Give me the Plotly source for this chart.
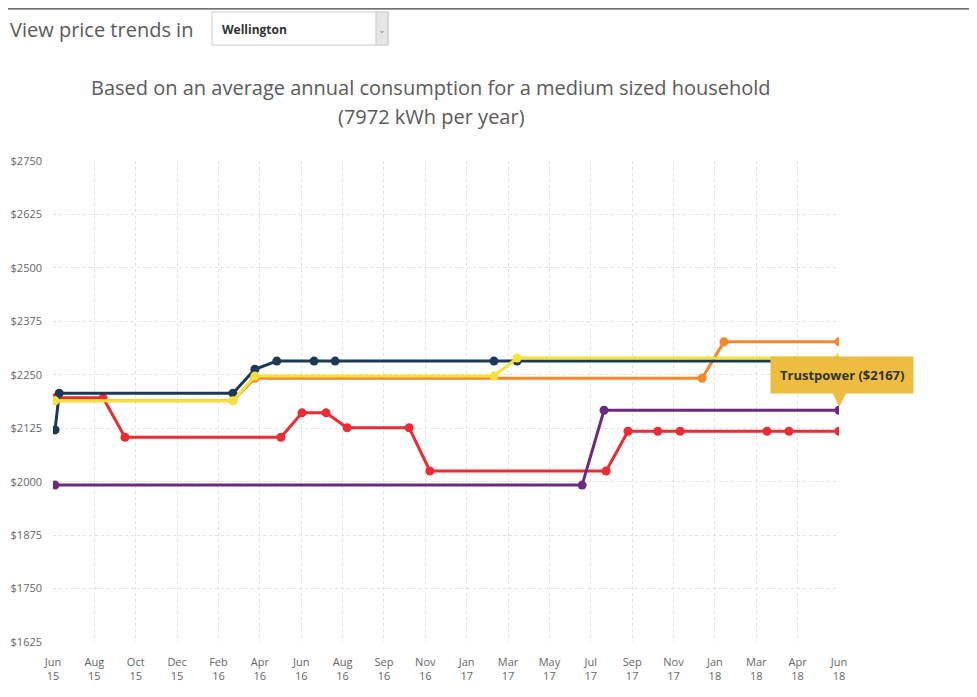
import plotly.graph_objects as go

# ---- data ----
tick_labels = ["Jun<br>15", "Aug<br>15", "Oct<br>15", "Dec<br>15", "Feb<br>16", "Apr<br>16",
               "Jun<br>16", "Aug<br>16", "Sep<br>16", "Nov<br>16", "Jan<br>17", "Mar<br>17",
               "May<br>17", "Jul<br>17", "Sep<br>17", "Nov<br>17", "Jan<br>18", "Mar<br>18",
               "Apr<br>18", "Jun<br>18"]
y_ticks = [1625, 1750, 1875, 2000, 2125, 2250, 2375, 2500, 2625, 2750]

red_x = [0.05, 1.21, 1.74, 5.51, 6.02, 6.60, 7.11, 8.61, 9.11, 13.37, 13.90, 14.62, 15.16, 17.26, 17.79, 19]
red_y = [2196, 2196, 2104, 2104, 2161, 2161, 2126, 2126, 2025, 2025, 2118, 2118, 2118, 2118, 2118, 2118]

purple_x = [0.05, 12.79, 13.32, 19]
purple_y = [1992, 1992, 2167, 2167]

orange_x = [0.05, 4.35, 4.88, 15.69, 16.22, 19]
orange_y = [2189, 2189, 2242, 2242, 2327, 2327]

navy_x = [0.05, 0.15, 4.35, 4.88, 5.41, 6.31, 6.82, 10.66, 11.22, 19]
navy_y = [2121, 2207, 2207, 2263, 2282, 2282, 2282, 2282, 2282, 2282]

yellow_x = [0.05, 4.35, 4.88, 10.66, 11.22, 19]
yellow_y = [2189, 2189, 2247, 2247, 2289, 2289]

series = [
    ("Contact Energy", red_x, red_y, "#ee2a33"),
    ("Trustpower", purple_x, purple_y, "#6b2a80"),
    ("Genesis Energy", orange_x, orange_y, "#f7872c"),
    ("Meridian", navy_x, navy_y, "#1c3a58"),
    ("Mercury", yellow_x, yellow_y, "#f6e23a"),
]

fig = go.Figure()
for name, xs, ys, col in series:
    fig.add_trace(go.Scatter(x=xs, y=ys, name=name, mode="lines+markers",
                             line=dict(color=col, width=3),
                             marker=dict(color=col, size=9),
                             hoverinfo="skip", showlegend=False))

# page offset of the figure (browser body margin)
OFF = 8
W, H = 977, 697
# plot area in page pixels
PL, PR, PT, PB = 53, 839, 161, 642
L, R, T, B = PL - OFF, PR - OFF, PT - OFF, PB - OFF

def px(x):
    return (x - OFF - L) / (R - L)

def py(y):
    return (B - (y - OFF)) / (B - T)

grey = "#5a5a5a"
ann = []
ann.append(dict(xref="paper", yref="paper", x=px(10), y=py(30), xanchor="left", yanchor="middle",
                text="View price trends in", showarrow=False, xshift=-2,
                font=dict(family="Open Sans", size=20, color=grey)))
ann.append(dict(xref="paper", yref="paper", x=px(220), y=py(29), xanchor="left", yanchor="middle",
                text="<b>Wellington</b>", showarrow=False,
                font=dict(family="Open Sans", size=12, color="#333")))
ann.append(dict(xref="paper", yref="paper", x=px(382), y=py(30), xanchor="center", yanchor="middle",
                text="⌄", showarrow=False,
                font=dict(family="DejaVu Sans", size=9, color="#888")))
ann.append(dict(xref="paper", yref="paper", x=px(431), y=py(87), xanchor="center", yanchor="middle",
                text="Based on an average annual consumption for a medium sized household", showarrow=False,
                font=dict(family="Open Sans", size=20, color=grey)))
ann.append(dict(xref="paper", yref="paper", x=px(431), y=py(116), xanchor="center", yanchor="middle",
                text="(7972 kWh per year)", showarrow=False,
                font=dict(family="Open Sans", size=20, color=grey)))
# tooltip
ann.append(dict(x=purple_x[-1], y=purple_y[-1], xref="x", yref="y", text="▼", showarrow=False,
                yshift=14, font=dict(family="DejaVu Sans", size=22, color="#ecbd3f"),
                xanchor="center", yanchor="middle"))
ann.append(dict(x=purple_x[-1], y=purple_y[-1], xref="x", yref="y",
                text="<b>Trustpower ($2167)</b>", showarrow=False, yshift=35, xshift=3,
                bgcolor="#ecbd3f", borderpad=9, font=dict(family="Open Sans", size=13, color="#333")))

shapes = [
    dict(type="rect", xref="paper", yref="paper", x0=px(212), x1=px(388), y0=py(45), y1=py(12),
         line=dict(color="#cccccc", width=1), fillcolor="white", layer="below"),
    dict(type="rect", xref="paper", yref="paper", x0=px(376), x1=px(388), y0=py(45), y1=py(12),
         line=dict(color="#cccccc", width=1), fillcolor="#e6e6e6", layer="below"),
    dict(type="line", xref="paper", yref="paper", x0=px(0), x1=px(985), y0=py(8.8), y1=py(8.8),
         line=dict(color="#444444", width=1.2)),
    dict(type="line", xref="paper", yref="paper", x0=px(970), x1=px(970), y0=py(9), y1=py(350),
         line=dict(color="#e3e3e3", width=1)),
]

fig.update_layout(
    width=W, height=H, autosize=False,
    margin=dict(l=L, r=W - R, t=T, b=H - B, pad=0, autoexpand=False),
    paper_bgcolor="white", plot_bgcolor="white",
    annotations=ann, shapes=shapes,
    font=dict(family="Open Sans", color="#666"),
)
fig.update_xaxes(range=[0, 19], tickmode="array", tickvals=list(range(len(tick_labels))),
                 ticktext=tick_labels, showgrid=True, gridcolor="#e2e2e2", griddash="dot",
                 gridwidth=1, zeroline=False, showline=False, ticks="", ticklabelstandoff=12,
                 automargin=False,
                 tickfont=dict(family="Open Sans", size=11, color="#666"))
fig.update_yaxes(range=[1625, 2750], tickmode="array", tickvals=y_ticks,
                 ticktext=["$" + str(v) for v in y_ticks], showgrid=True, gridcolor="#e2e2e2",
                 griddash="dot", gridwidth=1, zeroline=False, showline=False, ticks="",
                 ticklabelstandoff=10, automargin=False,
                 tickfont=dict(family="Open Sans", size=11, color="#666"))

fig.write_html("out.html")
